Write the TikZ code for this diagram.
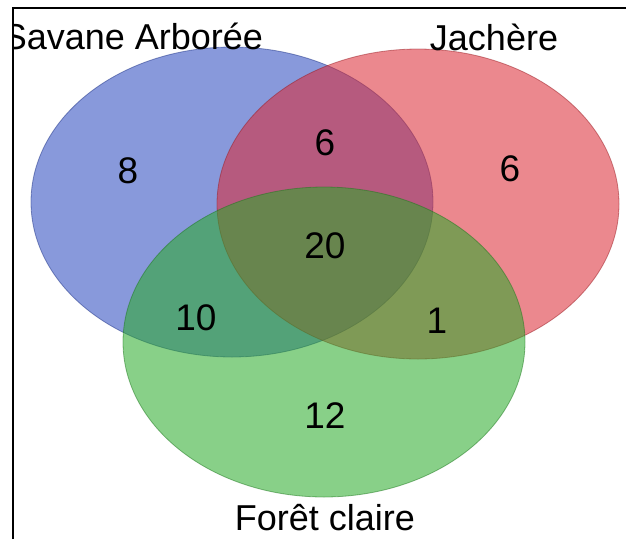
\documentclass[tikz,border=0pt]{standalone}
\usepackage{fontspec}
\setmainfont{Liberation Sans}
\usepackage{tikz}
\usetikzlibrary{shapes.geometric}

\definecolor{setblue}{RGB}{40,70,190}
\definecolor{setred}{RGB}{220,40,50}
\definecolor{setgreen}{RGB}{40,170,40}

\begin{document}
\begin{tikzpicture}[
    x=1pt, y=-1pt,
    set/.style={ellipse, minimum width=402pt, minimum height=310pt, inner sep=0pt,
                fill opacity=0.55, draw opacity=0.5, line width=0.8pt},
    count/.style={font=\fontsize{37}{40}\selectfont, text=black},
    title/.style={font=\fontsize{36}{40}\selectfont, text=black}
]
\useasboundingbox (0,0) rectangle (626,539);
\fill[white] (0,0) rectangle (626,539);

\begin{scope}
\clip (13,8) rectangle (626,539);
% the three sets
\node[set, fill=setblue, draw=setblue!70!black] (savane) at (232,202) {};
\node[set, fill=setred, draw=setred!70!black] (jachere) at (418,204) {};
\node[set, fill=setgreen, draw=setgreen!70!black] (foret) at (324,342) {};

% counts
\node[count] (onlyS) at (128,171) {8};
\node[count] (onlyJ) at (510,169) {6};
\node[count] (SJ) at (325,143) {6};
\node[count] (SJF) at (325,246) {20};
\node[count] (SF) at (196,318) {10};
\node[count] (JF) at (437,321) {1};
\node[count] (onlyF) at (325,416) {12};

% set names
\node[title] (nameS) at (133,36) {Savane Arborée};
\node[title] (nameJ) at (494,37) {Jachère};
\node[title] (nameF) at (325,518) {Forêt claire};
\end{scope}

\draw[line width=1.8pt] (13,539) -- (13,8) -- (626,8);
\end{tikzpicture}
\end{document}
